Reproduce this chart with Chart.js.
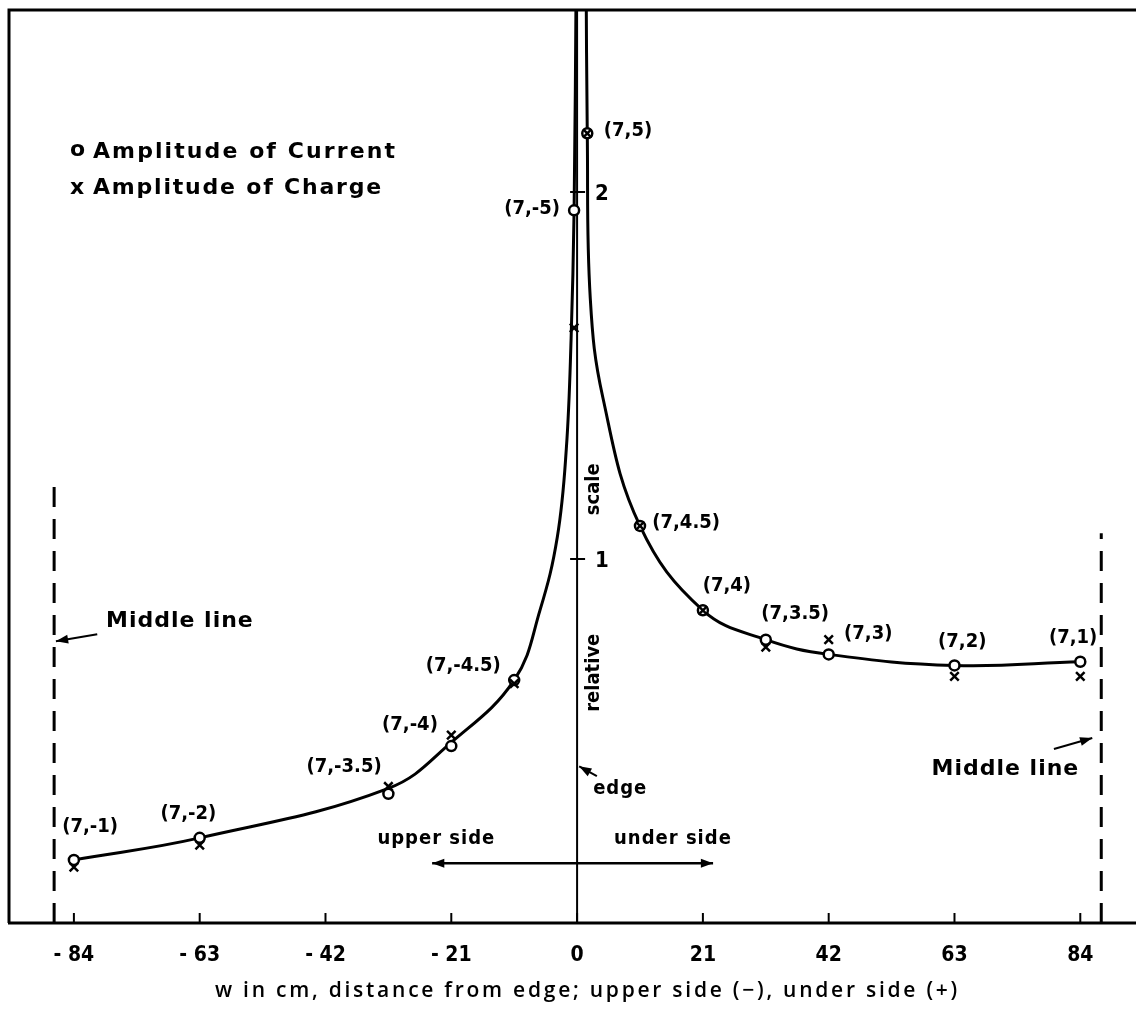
<!DOCTYPE html>
<html>
<head>
<meta charset="utf-8">
<script src="https://cdn.jsdelivr.net/npm/chart.js@4.4.1/dist/chart.umd.min.js"></script>
<style>
  html, body { margin: 0; padding: 0; background: #fff; overflow: hidden; }
  #wrap { width: 1136px; height: 1018px; position: relative; }
  #chart { display: block; }
</style>
</head>
<body>
<div id="wrap"><canvas id="chart"></canvas></div>
<script>
// w (cm) of each measuring point, and the measured amplitudes (relative scale)
const xPositions = [-84, -63, -31.5, -21, -10.5, -0.5, 1.7, 10.5, 21, 31.5, 42, 63, 84];
const pointNames = ['(7,-1)', '(7,-2)', '(7,-3.5)', '(7,-4)', '(7,-4.5)', '(7,-5)', '(7,5)', '(7,4.5)', '(7,4)', '(7,3.5)', '(7,3)', '(7,2)', '(7,1)'];
const currentAmp = [0.18, 0.24, 0.36, 0.49, 0.67, 1.95, 2.16, 1.09, 0.86, 0.78, 0.74, 0.71, 0.72];
const chargeAmp  = [0.16, 0.22, 0.38, 0.52, 0.66, 1.63, 2.16, 1.09, 0.86, 0.76, 0.78, 0.68, 0.68];

// hand drawn curve: upper side (left) and under side (right)
const upperCurveX = [-84, -63, -31.5, -21, -10.5, -6.2, -3.3, -1.8, -1.0, -0.5, -0.15];
const upperCurveY = [0.18, 0.24, 0.375, 0.50, 0.67, 0.86, 1.06, 1.30, 1.60, 1.95, 2.6];
const underCurveX = [1.5, 1.7, 2.2, 4.3, 10.5, 21, 31.5, 42, 63, 84];
const underCurveY = [2.6, 2.16, 1.71, 1.44, 1.09, 0.86, 0.78, 0.74, 0.71, 0.72];

const xTicks = [-84, -63, -42, -21, 0, 21, 42, 63, 84];
const yTicks = [1, 2];
const middleLines = [-87.3, 87.5];
const middleTops = [1.22, 1.07];

// where each point name sits (data units)
const nameSpots = [
  [-81.3, 0.27], [-64.9, 0.305], [-38.9, 0.433], [-27.9, 0.547], [-19.0, 0.708], [-7.5, 1.954],
  [8.5, 2.167], [18.2, 1.099], [25.0, 0.927], [36.4, 0.85], [48.6, 0.795], [64.3, 0.775], [82.8, 0.785]
];

const BOLD = 'bold 20px "DejaVu Sans Condensed", "Liberation Sans Narrow", "DejaVu Sans", sans-serif';
const WIDE = 'bold 22px "DejaVu Sans", "Noto Sans", sans-serif';

const toXY = (xs, ys) => xs.map((x, i) => ({ x: x, y: ys[i] }));

function arrowHead(ctx, x0, y0, x1, y1, size) {
  const a = Math.atan2(y1 - y0, x1 - x0);
  ctx.beginPath();
  ctx.moveTo(x1, y1);
  ctx.lineTo(x1 - size * Math.cos(a - 0.35), y1 - size * Math.sin(a - 0.35));
  ctx.lineTo(x1 - size * Math.cos(a + 0.35), y1 - size * Math.sin(a + 0.35));
  ctx.closePath();
  ctx.fill();
}

function arrow(ctx, x0, y0, x1, y1, both) {
  ctx.beginPath();
  ctx.moveTo(x0, y0);
  ctx.lineTo(x1, y1);
  ctx.stroke();
  arrowHead(ctx, x0, y0, x1, y1, 13);
  if (both) arrowHead(ctx, x1, y1, x0, y0, 13);
}

// spread the letters so a line of lettering fills a given width
function spaced(ctx, text, x, y, width) {
  ctx.letterSpacing = '0px';
  const w = ctx.measureText(text).width;
  ctx.letterSpacing = Math.max(0, (width - w) / text.length) + 'px';
  ctx.fillText(text, x, y);
  ctx.letterSpacing = '0px';
}

// frame, centre axis, middle lines (under the marks) and all the lettering
const frame = {
  id: 'frame',
  beforeDatasetsDraw(chart) {
    const { ctx, chartArea: a, scales: { x, y } } = chart;
    ctx.save();
    ctx.strokeStyle = '#000';
    ctx.lineCap = 'butt';

    ctx.lineWidth = 3;
    ctx.beginPath();
    ctx.moveTo(a.left + 1, a.bottom);
    ctx.lineTo(a.left + 1, a.top);
    ctx.lineTo(a.right, a.top);
    ctx.moveTo(a.left, a.bottom);
    ctx.lineTo(a.right, a.bottom);
    ctx.stroke();

    // inward ticks on the w axis
    ctx.lineWidth = 2;
    xTicks.forEach(v => {
      const px = x.getPixelForValue(v);
      ctx.beginPath();
      ctx.moveTo(px, a.bottom);
      ctx.lineTo(px, a.bottom - 10);
      ctx.stroke();
    });

    // the edge (w = 0) carries the relative scale
    const x0 = x.getPixelForValue(0);
    ctx.beginPath();
    ctx.moveTo(x0, a.top);
    ctx.lineTo(x0, a.bottom);
    ctx.stroke();
    yTicks.forEach(v => {
      const py = y.getPixelForValue(v);
      ctx.beginPath();
      ctx.moveTo(x0 - 7, py);
      ctx.lineTo(x0 + 8, py);
      ctx.stroke();
    });

    // middle lines
    ctx.lineWidth = 3;
    ctx.setLineDash([20, 12]);
    middleLines.forEach((v, i) => {
      const px = x.getPixelForValue(v);
      ctx.beginPath();
      ctx.moveTo(px, a.bottom);
      ctx.lineTo(px, y.getPixelForValue(middleTops[i]));
      ctx.stroke();
    });
    ctx.setLineDash([]);
    ctx.restore();
  },
  afterDatasetsDraw(chart) {
    const { ctx, scales: { x, y } } = chart;
    const X = v => x.getPixelForValue(v);
    const Y = v => y.getPixelForValue(v);
    ctx.save();
    ctx.fillStyle = '#000';
    ctx.strokeStyle = '#000';
    ctx.textAlign = 'center';
    ctx.textBaseline = 'middle';

    // point names
    ctx.font = BOLD;
    pointNames.forEach((n, i) => ctx.fillText(n, X(nameSpots[i][0]), Y(nameSpots[i][1])));

    // scale numbers beside the edge
    ctx.font = 'bold 22px "DejaVu Sans Condensed", "DejaVu Sans", sans-serif';
    ctx.textAlign = 'left';
    yTicks.forEach(v => ctx.fillText(String(v), X(0) + 18, Y(v) + 2));

    // axis name written along the edge
    ctx.font = BOLD;
    ctx.textAlign = 'center';
    [['relative', 0.69], ['scale', 1.19]].forEach(([t, v]) => {
      ctx.save();
      ctx.translate(X(2.8), Y(v));
      ctx.rotate(-Math.PI / 2);
      ctx.fillText(t, 0, 0);
      ctx.restore();
    });

    // notes
    ctx.letterSpacing = '1px';
    ctx.fillText('edge', X(7.2), Y(0.373));
    ctx.fillText('upper side', X(-23.5), Y(0.237));
    ctx.fillText('under side', X(16.0), Y(0.237));
    ctx.font = WIDE;
    ctx.fillText('Middle line', X(-66.3), Y(0.83));
    ctx.fillText('Middle line', X(71.5), Y(0.427));
    ctx.letterSpacing = '0px';

    ctx.lineWidth = 2.5;
    arrow(ctx, X(-24.2), Y(0.171), X(22.7), Y(0.171), true);
    ctx.lineWidth = 2;
    arrow(ctx, X(3.3), Y(0.408), X(0.35), Y(0.435), false);
    arrow(ctx, X(-80.1), Y(0.795), X(-87.0), Y(0.776), false);
    arrow(ctx, X(79.6), Y(0.482), X(86.0), Y(0.512), false);

    // legend
    ctx.font = WIDE;
    ctx.textAlign = 'left';
    ctx.fillText('o', 70, 150);
    spaced(ctx, 'Amplitude of Current', 93, 152, 304);
    ctx.fillText('x', 70, 188);
    spaced(ctx, 'Amplitude of Charge', 93, 188, 290);

    // w axis title
    ctx.font = '600 21px "Open Sans", "DejaVu Sans", sans-serif';
    spaced(ctx, 'w in cm, distance from edge; upper side (\u2212), under side (+)', 215, 991, 745);
    ctx.restore();
  }
};

new Chart(document.getElementById('chart'), {
  data: {
    datasets: [
      {
        type: 'scatter', label: 'Amplitude of Charge', order: 0,
        data: toXY(xPositions, chargeAmp),
        pointStyle: 'crossRot', pointRadius: 6, borderWidth: 2.5,
        borderColor: '#000', backgroundColor: '#000'
      },
      {
        type: 'scatter', label: 'Amplitude of Current', order: 1,
        data: toXY(xPositions, currentAmp),
        pointStyle: 'circle', pointRadius: 5, borderWidth: 2.5,
        borderColor: '#000', backgroundColor: '#fff'
      },
      {
        type: 'line', label: 'upper side', order: 2,
        data: toXY(upperCurveX, upperCurveY),
        borderColor: '#000', borderWidth: 3, pointRadius: 0,
        tension: 0.4, fill: false
      },
      {
        type: 'line', label: 'under side', order: 2,
        data: toXY(underCurveX, underCurveY),
        borderColor: '#000', borderWidth: 3, pointRadius: 0,
        tension: 0.4, fill: false
      }
    ]
  },
  options: {
    responsive: true,
    maintainAspectRatio: false,
    animation: false,
    layout: { autoPadding: false, padding: { left: 8, top: 10, right: 0, bottom: 0 } },
    plugins: { legend: { display: false }, tooltip: { enabled: false } },
    scales: {
      x: {
        type: 'linear', min: -95, max: 93.3,
        grid: { display: false }, border: { display: false },
        afterBuildTicks: s => { s.ticks = xTicks.map(v => ({ value: v })); },
        afterFit: s => { s.height = 95; s.paddingLeft = 0; s.paddingRight = 0; },
        ticks: {
          color: '#000', padding: 12,
          font: { family: '"DejaVu Sans Condensed", "Liberation Sans Narrow", "DejaVu Sans", sans-serif', size: 21, weight: 'bold' },
          callback: v => v < 0 ? '- ' + Math.abs(v) : String(v)
        }
      },
      y: { type: 'linear', min: 0.008, max: 2.496, display: false }
    }
  },
  plugins: [frame]
});
</script>
</body>
</html>
